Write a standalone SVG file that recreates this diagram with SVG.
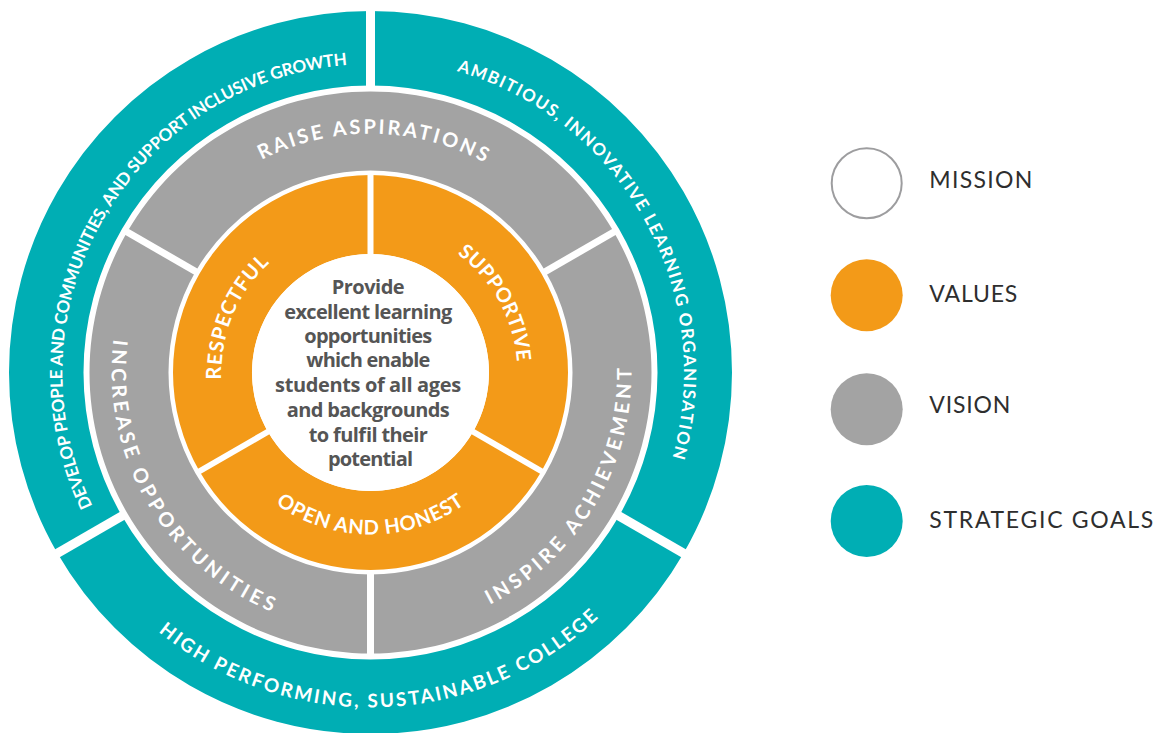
<svg xmlns="http://www.w3.org/2000/svg" width="1156" height="733" viewBox="0 0 1156 733">
<style>
.teal{fill:#00AEB4}
.gray{fill:#A3A3A3}
.orange{fill:#F39A18}
.lbl{font-family:Lato,"Open Sans","DejaVu Sans",sans-serif;font-weight:700;fill:#fff;text-anchor:middle}
.div{stroke:#fff;fill:none}
.ctr{font-family:"Open Sans","DejaVu Sans",sans-serif;font-weight:700;font-size:20px;fill:#555;text-anchor:middle}
.leg{font-family:Lato,"Open Sans",sans-serif;font-weight:400;font-size:23px;fill:#2e2e2e}
</style>
<defs>
<path id="p-develop" d="M 216 640.1 A 309 309 0 0 1 525 104.9"/>
<path id="p-ambitious" d="M 218.27 97.87 A 314 314 0 0 1 522.73 647.13"/>
<path id="p-high" d="M 35.7 384.19 A 335 335 0 0 0 705.3 360.81"/>
<path id="p-raise" d="M 130.54 368.31 A 240 240 0 0 1 610.46 376.69"/>
<path id="p-inspire" d="M 238.03 597.39 A 261 261 0 0 0 502.97 147.61"/>
<path id="p-increase" d="M 238.54 148.48 A 260 260 0 0 0 502.46 596.52"/>
<path id="p-respectful" d="M 313.48 510.16 A 149 149 0 0 1 427.52 234.84"/>
<path id="p-supportive" d="M 298.75 243.06 A 148 148 0 0 1 442.25 501.94"/>
<path id="p-open" d="M 208.5 372.5 A 162 162 0 0 0 532.5 372.5"/>
</defs>

<g id="goal-develop">
<path class="teal" d="M 57.43 553.25 A 361.5 361.5 0 0 1 370.5 11 L 370.5 85.5 A 287 287 0 0 0 121.95 516 Z"/>
<text class="lbl" font-size="17" letter-spacing="-0.2"><textPath href="#p-develop" startOffset="50%">DEVELOP PEOPLE AND COMMUNITIES, AND SUPPORT INCLUSIVE GROWTH</textPath></text>
</g>
<g id="goal-ambitious">
<path class="teal" d="M 370.5 11 A 361.5 361.5 0 0 1 683.57 553.25 L 619.05 516 A 287 287 0 0 0 370.5 85.5 Z"/>
<text class="lbl" font-size="17" letter-spacing="1.5"><textPath href="#p-ambitious" startOffset="50%">AMBITIOUS, INNOVATIVE LEARNING ORGANISATION</textPath></text>
</g>
<g id="goal-high">
<path class="teal" d="M 683.57 553.25 A 361.5 361.5 0 0 1 57.43 553.25 L 121.95 516 A 287 287 0 0 0 619.05 516 Z"/>
<text class="lbl" font-size="19" letter-spacing="2.3"><textPath href="#p-high" startOffset="50%">HIGH PERFORMING, SUSTAINABLE COLLEGE</textPath></text>
</g>

<g id="vision-raise">
<path class="gray" d="M 127.15 232 A 281 281 0 0 1 613.85 232 L 545.44 271.5 A 202 202 0 0 0 195.56 271.5 Z"/>
<text class="lbl" font-size="20" letter-spacing="2.7"><textPath href="#p-raise" startOffset="50%">RAISE ASPIRATIONS</textPath></text>
</g>
<g id="vision-inspire">
<path class="gray" d="M 613.85 232 A 281 281 0 0 1 370.5 653.5 L 370.5 574.5 A 202 202 0 0 0 545.44 271.5 Z"/>
<text class="lbl" font-size="20" letter-spacing="3.8"><textPath href="#p-inspire" startOffset="50%">INSPIRE ACHIEVEMENT</textPath></text>
</g>
<g id="vision-increase">
<path class="gray" d="M 370.5 653.5 A 281 281 0 0 1 127.15 232 L 195.56 271.5 A 202 202 0 0 0 370.5 574.5 Z"/>
<text class="lbl" font-size="20" letter-spacing="3.8"><textPath href="#p-increase" startOffset="50%">INCREASE OPPORTUNITIES</textPath></text>
</g>

<g id="value-respectful">
<path class="orange" d="M 199.46 471.25 A 197.5 197.5 0 0 1 370.5 175 L 370.5 254 A 118.5 118.5 0 0 0 267.88 431.75 Z"/>
<text class="lbl" font-size="20" letter-spacing="1"><textPath href="#p-respectful" startOffset="50%">RESPECTFUL</textPath></text>
</g>
<g id="value-supportive">
<path class="orange" d="M 370.5 175 A 197.5 197.5 0 0 1 541.54 471.25 L 473.12 431.75 A 118.5 118.5 0 0 0 370.5 254 Z"/>
<text class="lbl" font-size="20" letter-spacing="0.5"><textPath href="#p-supportive" startOffset="50%">SUPPORTIVE</textPath></text>
</g>
<g id="value-open">
<path class="orange" d="M 541.54 471.25 A 197.5 197.5 0 0 1 199.46 471.25 L 267.88 431.75 A 118.5 118.5 0 0 0 473.12 431.75 Z"/>
<text class="lbl" font-size="20" letter-spacing="0.8"><textPath href="#p-open" startOffset="50%">OPEN AND HONEST</textPath></text>
</g>

<g id="mission">
<circle cx="370.5" cy="372.5" r="118.5" fill="#fff"/>
<text class="ctr">
<tspan x="370.5" y="294" textLength="73">Provide</tspan>
<tspan x="370.5" y="318.7" textLength="168">excellent learning</tspan>
<tspan x="370.5" y="342.5" textLength="128">opportunities</tspan>
<tspan x="370.5" y="367.2" textLength="124">which enable</tspan>
<tspan x="370.5" y="392" textLength="186">students of all ages</tspan>
<tspan x="370.5" y="416.7" textLength="163">and backgrounds</tspan>
<tspan x="370.5" y="441.5" textLength="119">to fulfil their</tspan>
<tspan x="370.5" y="465.5" textLength="85">potential</tspan>
</text>
</g>

<g id="dividers" class="div">
<g stroke-width="9">
<line x1="370.5" y1="89.5" x2="370.5" y2="6.5"/>
<line x1="615.58" y1="514" x2="687.46" y2="555.5"/>
<line x1="125.42" y1="514" x2="53.54" y2="555.5"/>
</g>
<g stroke-width="7">
<line x1="198.16" y1="273" x2="124.55" y2="230.5"/>
<line x1="542.84" y1="273" x2="616.45" y2="230.5"/>
<line x1="370.5" y1="571.5" x2="370.5" y2="656.5"/>
</g>
<g stroke-width="6">
<line x1="370.5" y1="257.5" x2="370.5" y2="172.5"/>
<line x1="470.09" y1="430" x2="543.71" y2="472.5"/>
<line x1="270.91" y1="430" x2="197.29" y2="472.5"/>
</g>
</g>

<g id="legend">
<g id="legend-mission">
<circle cx="866.7" cy="183.3" r="35" fill="#fff" stroke="#9d9d9f" stroke-width="2"/>
<text class="leg" x="929.3" y="188.3" textLength="103">MISSION</text>
</g>
<g id="legend-values">
<circle class="orange" cx="866.7" cy="295.3" r="36"/>
<text class="leg" x="929.3" y="301.7" textLength="88">VALUES</text>
</g>
<g id="legend-vision">
<circle class="gray" cx="866.7" cy="409.3" r="36"/>
<text class="leg" x="929.3" y="413.3" textLength="81">VISION</text>
</g>
<g id="legend-goals">
<circle class="teal" cx="866.7" cy="521" r="36"/>
<text class="leg" x="929.3" y="527.7" textLength="224">STRATEGIC GOALS</text>
</g>
</g>
</svg>
